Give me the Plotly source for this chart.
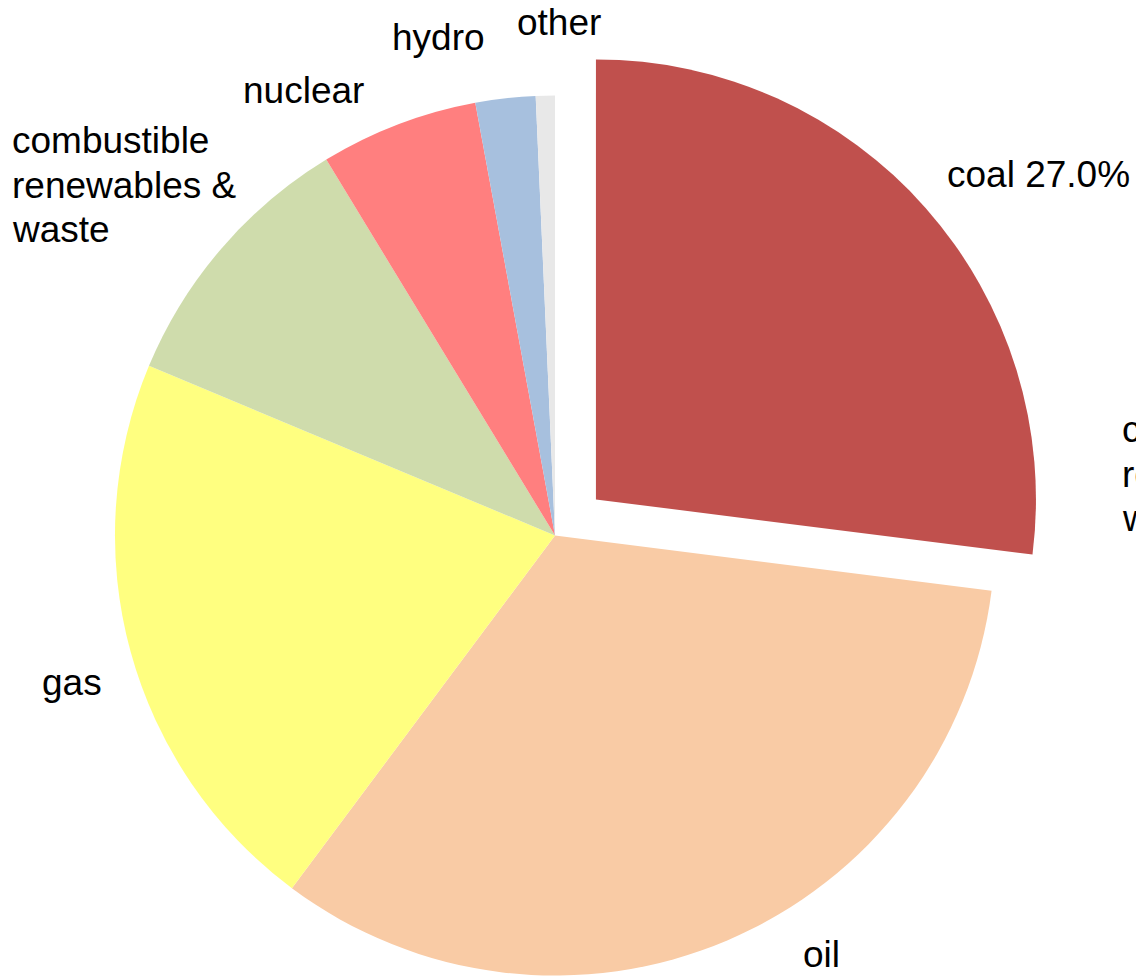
import plotly.graph_objects as go

# ---- data ----
sources = ["coal", "oil", "gas", "combustible renewables & waste", "nuclear", "hydro", "other"]
shares = [27.0, 33.2, 21.1, 10.0, 5.8, 2.2, 0.7]
colors = ["#C0504D", "#F9CBA5", "#FFFF80", "#CFDCAC", "#FF7F7F", "#A7C0DE", "#E8E8E8"]
pulls = [0.124, 0, 0, 0, 0, 0, 0]
label_lines = [["coal 27.0%"], ["oil"], ["gas"], ["combustible", "renewables &", "waste"],
               ["nuclear"], ["hydro"], ["other"]]
extra_lines = ["combustible", "renewables &", "waste"]

# ---- layout geometry (pixels) ----
W, H = 1136, 1036
CX, CY, HALF = 555, 535.5, 494.6
LINE_GAP = 44.5

# label anchor positions (left x, vertical middle y of first line) in pixels
label_pos = [(945, 174.5), (801, 954.5), (40, 682.5), (10, 140.5),
             (241, 90.5), (390, 37.5), (515, 22.5)]
extra_pos = (1120, 429.5)

FONT = dict(family="Liberation Sans, Arial, sans-serif", size=37, color="#000000")

y0 = max(0.0, 1 - (CY + HALF) / H)
y1 = min(1.0, 1 - (CY - HALF) / H)

fig = go.Figure(go.Pie(
    labels=sources,
    values=shares,
    sort=False,
    direction="clockwise",
    rotation=0,
    pull=pulls,
    marker=dict(colors=colors, line=dict(width=0)),
    textinfo="none",
    hoverinfo="label+percent",
    domain=dict(x=[(CX - HALF) / W, (CX + HALF) / W], y=[y0, y1]),
))


def add_label(lines, px, py, out):
    for k, line in enumerate(lines):
        out.append(dict(text=line, x=px / W, y=1 - (py + k * LINE_GAP) / H,
                        xref="paper", yref="paper", xanchor="left", yanchor="middle",
                        align="left", showarrow=False, font=FONT))


annotations = []
for lines, (px, py) in zip(label_lines, label_pos):
    add_label(lines, px, py, annotations)
add_label(extra_lines, extra_pos[0], extra_pos[1], annotations)

fig.update_layout(
    width=W, height=H,
    margin=dict(l=0, r=0, t=0, b=0),
    paper_bgcolor="white",
    plot_bgcolor="white",
    showlegend=False,
    annotations=annotations,
)

fig.write_html("out.html", config={"displayModeBar": False},
               post_script="document.body.style.margin='0';document.body.style.overflow='hidden';document.documentElement.style.overflow='hidden';")
